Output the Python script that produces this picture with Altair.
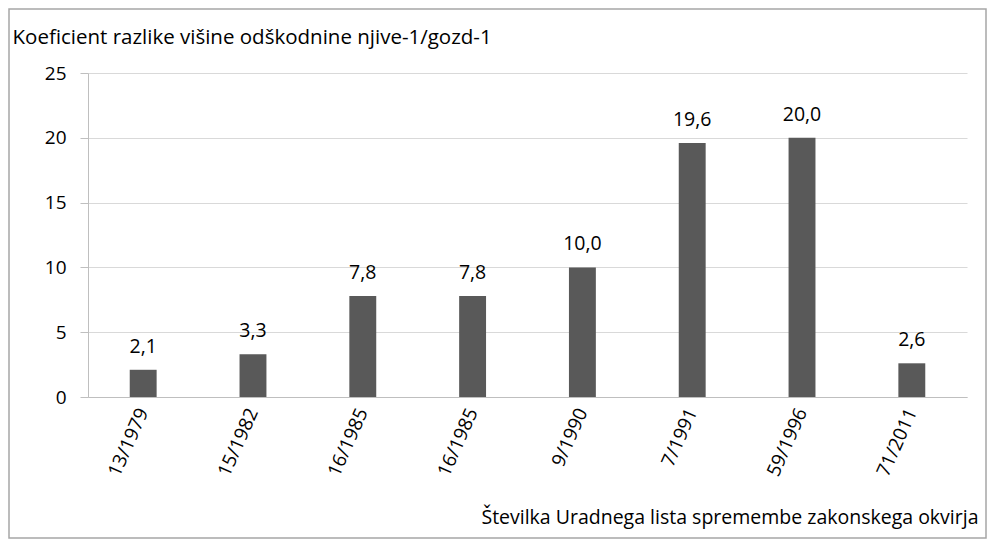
import json
import altair as alt
import pandas as pd

categories = ["13/1979", "15/1982", "16/1985", "16/1985", "9/1990", "7/1991", "59/1996", "71/2011"]
values = [2.1, 3.3, 7.8, 7.8, 10.0, 19.6, 20.0, 2.6]
y_ticks = [0, 5, 10, 15, 20, 25]

y_title = "Koeficient razlike višine odškodnine njive-1/gozd-1"
x_title = "Številka Uradnega lista spremembe zakonskega okvirja"

df = pd.DataFrame({
    "key": [str(i) for i in range(len(categories))],
    "cat": categories,
    "value": values,
    "label": [f"{v:.1f}".replace(".", ",") for v in values],
})

FONT = "Open Sans"
label_expr = json.dumps(categories) + "[toNumber(datum.value)]"

x_enc = alt.X(
    "key:N", sort=None,
    scale=alt.Scale(paddingInner=0.755, paddingOuter=0.38),
    axis=alt.Axis(
        labelExpr=label_expr, labelAngle=-66, labelFontSize=19, labelFont=FONT,
        labelColor="#000000", labelPadding=12, ticks=False, domain=True,
        domainColor="#bfbfbf", title=x_title, titleFont=FONT, titleFontSize=19.5,
        titleFontWeight="normal", titleColor="#000000", titleAnchor="end",
        titleAlign="right", titleBaseline="alphabetic", titleX=890, titleY=126,
    ),
)
y_enc = alt.Y(
    "value:Q",
    scale=alt.Scale(domain=[0, 25], nice=False),
    axis=alt.Axis(
        values=y_ticks, labelFontSize=19, labelFont=FONT, labelColor="#000000",
        labelPadding=14, tickSize=8, tickColor="#bfbfbf", domain=True,
        domainColor="#bfbfbf", gridColor="#d9d9d9", title=y_title, titleFont=FONT,
        titleFontSize=20.5, titleFontWeight="normal", titleColor="#000000",
        titleAngle=0, titleAlign="left", titleBaseline="alphabetic",
        titleX=-76, titleY=-30,
    ),
)

base = alt.Chart(df)
bars = base.mark_bar(color="#595959").encode(x=x_enc, y=y_enc)
texts = base.mark_text(font=FONT, fontSize=19.5, color="#000000", baseline="alphabetic", dy=-17).encode(
    x=alt.X("key:N", sort=None), y="value:Q", text="label:N"
)
border = alt.Chart(pd.DataFrame({"a": [0]})).mark_rect(
    fill=None, stroke="#a6a6a6", strokeWidth=1.5
).encode(
    x=alt.value(-79), x2=alt.value(898), y=alt.value(-64), y2=alt.value(465)
)

chart = alt.layer(bars, texts, border).properties(
    width=879, height=324,
    autosize=alt.AutoSizeParams(type="none"),
    padding={"left": 80, "top": 65, "right": 21, "bottom": 150},
).configure_view(stroke=None)

chart.save("out.html", embed_options={"renderer": "svg", "actions": False})
